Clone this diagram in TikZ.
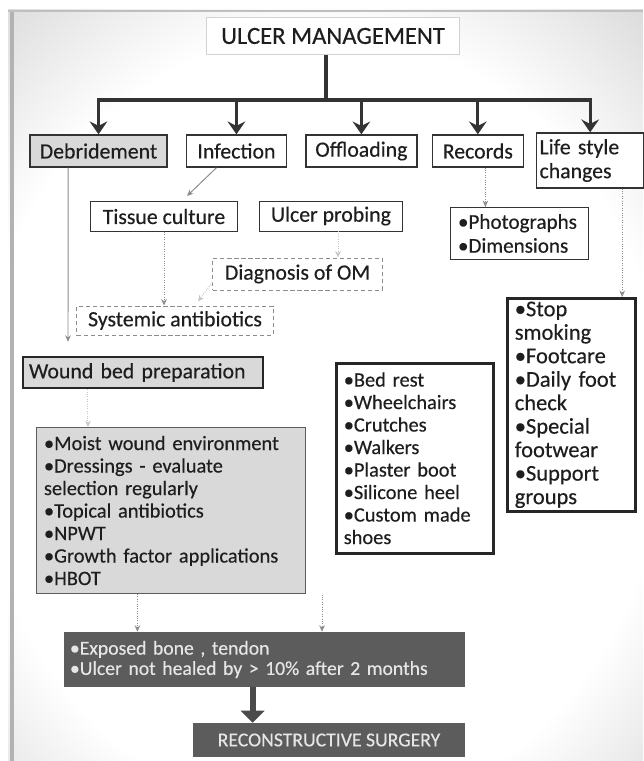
\documentclass[tikz,border=0pt]{standalone}
\usepackage{fontspec}
\setmainfont{Carlito}[FakeBold=0.35]
\usetikzlibrary{arrows.meta, positioning, calc}
\definecolor{uink}{HTML}{1E1E1E}
\definecolor{uline}{HTML}{333333}
\definecolor{ufill}{HTML}{D9D9D9}
\definecolor{udark}{HTML}{5C5C5C}
\definecolor{upale}{HTML}{E6E6E6}
\definecolor{ulink}{HTML}{8C8C8C}
\colorlet{bgmid}{gray!42}
\colorlet{bgedge}{gray!65}
\pgfdeclareradialshading{slidebg}{\pgfpoint{0bp}{0bp}}{color(0bp)=(white); color(22bp)=(white); color(36bp)=(bgmid); color(72bp)=(bgedge)}
\tikzset{
  box/.style={rectangle, draw=uline, line width=1pt, fill=white, text=uink,
              minimum height=0.8cm, inner sep=2pt, font={\fontsize{15.5}{17}\selectfont}},
  tbox/.style={box, draw=gray!35, line width=0.6pt, minimum width=6.325cm,
               minimum height=0.925cm, font={\fontsize{17.5}{19}\selectfont}},
  sub/.style={box, line width=0.7pt, minimum height=0.75cm, font={\fontsize{15.5}{17}\selectfont}},
  soft/.style={sub, draw=ulink, densely dashed},
  shaded/.style={fill=ufill},
  heavy/.style={line width=1.8pt, draw=black!85},
  list/.style={box, align=left, inner xsep=0.1875cm, font={\fontsize{14.5}{16}\selectfont}},
  dark/.style={rectangle, fill=udark, draw=none, text=upale, inner sep=2pt,
               font={\fontsize{14}{14.4}\selectfont}},
  trunk/.style={draw=uline, line width=2.2pt},
  flow/.style={trunk, -{Stealth[length=3.2mm, width=4.4mm, inset=1.1mm]}},
  link/.style={draw=ulink, line width=0.7pt, -{Stealth[length=1.6mm, width=1.4mm]}},
  faint/.style={link, draw=gray!45, densely dotted},
  bigflow/.style={draw=udark!80!black, line width=4.5pt, -{Triangle[length=3mm, width=5.8mm]}}
}
\begin{document}
\begin{tikzpicture}[x=0.025cm, y=-0.025cm]
  \useasboundingbox (0,0) rectangle (643,761);
  % slide background
  \begin{scope}
    \clip (8,10) rectangle (643,761);
    \shade[shading=slidebg] (-70,-20) rectangle (710,870);
  \end{scope}
  \draw[gray!60, line width=2.5pt] (12,10) -- (12,761);
  \draw[gray!50, line width=1.5pt] (8,11) -- (643,11);

  \node[tbox] (ulcer) at (333,36) {ULCER MANAGEMENT};

  % first row
  \node[box, shaded, minimum width=3.425cm] (debr) at (98.5,151) {Debridement};
  \node[box, minimum width=2.5cm, right=0.45cm of debr] (infec) {Infection};
  \node[box, minimum width=2.775cm, right=0.45cm of infec] (offl) {Offloading};
  \node[box, minimum width=2.275cm, right=0.35cm of offl] (recs) {Records};
  \node[box, align=left, text width=2.53cm, minimum height=1.375cm,
        right=0.3cm of recs.north east, anchor=north west, yshift=0.05cm] (life) {Life style\\changes};

  \coordinate (br) at (326,100);
  \draw[trunk] (ulcer.south -| br) -- (br);
  \foreach \n in {debr,infec,offl,recs,life}
    \draw[flow] (br) -| (\n.north);

  % second level
  \node[sub, minimum width=3.65cm] (tiss) at (164,216.5) {Tissue culture};
  \node[sub, minimum width=3.55cm] (probe) at (331,216) {Ulcer probing};
  \node[soft, minimum width=4.225cm, minimum height=0.8cm] (diag) at (297.5,274) {Diagnosis of OM};
  \node[soft, minimum width=4.9cm, minimum height=0.725cm] (syst) at (175,320.5) {Systemic antibiotics};
  \node[list, line width=0.7pt, anchor=north west, minimum width=3.45cm, minimum height=1.3cm,
        text width=3.075cm, font={\fontsize{15}{17}\selectfont}] (photo) at (450,207)
        {•Photographs\\•Dimensions};
  \node[box, shaded, heavy, minimum width=6cm, minimum height=0.775cm, text width=5.7cm,
        align=left] (wbp) at (143,372.5) {Wound bed preparation};

  % lists
  \node[list, shaded, draw=uline!80, line width=0.7pt, anchor=north west, minimum width=6.725cm,
        minimum height=4.15cm, text width=6.35cm] (wlist) at (36,427)
        {•Moist wound environment\\•Dressings - evaluate\\selection regularly\\•Topical antibiotics\\•NPWT\\•Growth factor applications\\•HBOT};
  \node[list, heavy, anchor=north west, minimum width=3.925cm, minimum height=4.75cm,
        text width=3.55cm] (olist) at (335,362)
        {•Bed rest\\•Wheelchairs\\•Crutches\\•Walkers\\•Plaster boot\\•Silicone heel\\•Custom made\\shoes};
  \node[list, heavy, anchor=north west, minimum width=3.2cm, minimum height=5.325cm,
        text width=2.825cm, font={\fontsize{16}{16.7}\selectfont}] (llist) at (506,297)
        {•Stop\\smoking\\•Footcare\\•Daily foot\\check\\•Special\\footwear\\•Support\\groups};

  % bottom
  \node[dark, minimum width=10.025cm, minimum height=1.375cm, text width=9.725cm,
        align=left] (expo) at (264.5,659.5)
        {•Exposed bone , tendon\\•Ulcer not healed by > 10\% after 2 months};
  \node[dark, minimum width=6.8cm, minimum height=0.85cm] (surg) at (329,740) {RECONSTRUCTIVE SURGERY};

  % thin connectors
  \draw[link, shorten >=0.35cm] ([xshift=-0.76cm]debr.south) -- ([xshift=-1.875cm]wbp.north);
  \draw[link] ([xshift=-0.5cm]infec.south) -- ([xshift=0.575cm, yshift=0.125cm]tiss.north);
  \draw[link, densely dotted] (tiss.south) -- (tiss.south |- syst.north);
  \draw[faint] ([xshift=0.175cm]probe.south) -- ([xshift=0.175cm]probe.south |- diag.north);
  \draw[faint] ([yshift=-0.2cm]diag.west) -- ([xshift=0.575cm, yshift=0.1cm]syst.north);
  \draw[link, densely dotted] ([xshift=0.19cm]recs.south) -- ([xshift=0.19cm]recs.south |- photo.north);
  \draw[link, densely dotted] ([xshift=0.8cm]life.south) -- ([xshift=0.8cm]life.south |- llist.north);
  \draw[faint] ([xshift=-1.375cm]wbp.south) -- ([xshift=-1.375cm]wbp.south |- wlist.north);
  \draw[link, densely dotted] ([xshift=-0.84cm]wlist.south) -- ([xshift=-0.84cm]wlist.south |- expo.north);
  \draw[link, densely dotted] ([xshift=-0.325cm, yshift=-1cm]olist.south west)
    -- ([xshift=-0.325cm]olist.south west |- expo.north);

  \coordinate (sarr) at ($(surg.north west)!0.22!(surg.north east)$);
  \draw[bigflow] (expo.south -| sarr) -- (sarr);
\end{tikzpicture}
\end{document}
